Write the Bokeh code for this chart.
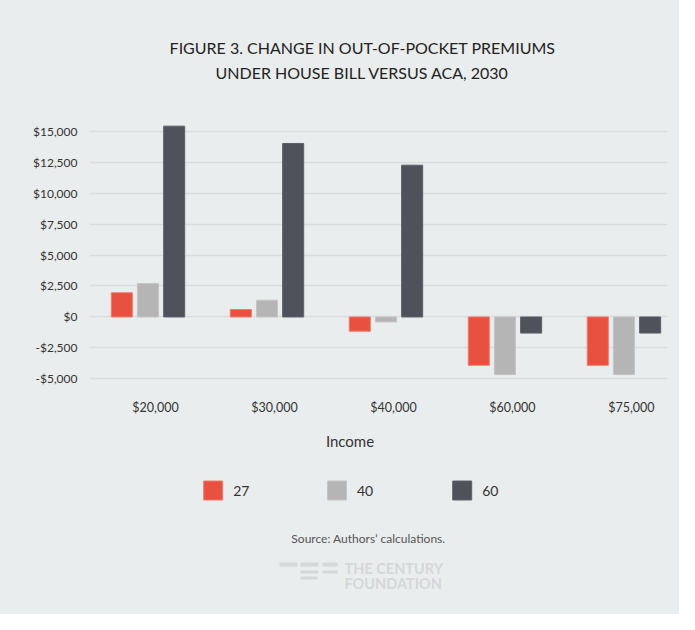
import numpy as np
from bokeh.plotting import figure
from bokeh.layouts import column
from bokeh.models import Range1d, FixedTicker, NumeralTickFormatter, CustomJSTickFormatter, ColumnDataSource
from bokeh.core.properties import value
from bokeh.embed import file_html
from bokeh.resources import INLINE

incomes = ["$20,000", "$30,000", "$40,000", "$60,000", "$75,000"]
series_names = ["27", "40", "60"]
age27 = [1950, 600, -1150, -3900, -3900]
age40 = [2700, 1350, -400, -4650, -4650]
age60 = [15400, 14000, 12250, -1300, -1300]
y_ticks = [-5000, -2500, 0, 2500, 5000, 7500, 10000, 12500, 15000]

BG = "#eaedee"
colors = ["#e8503f", "#b4b5b4", "#50525b"]
edges = ["#ef7a6c", "#c4c5c4", "#5e6069"]
FONT = "Lato"
W = 679
FL, FR = 89, 667  # frame left/right in pixels


def style(f):
    f.background_fill_color = BG
    f.background_fill_alpha = 0
    f.border_fill_color = BG
    f.outline_line_color = None


def aux(h):
    f = figure(width=W, height=h, x_range=Range1d(FL, FR), y_range=Range1d(h, 0),
               x_axis_location=None, y_axis_location=None,
               min_border_left=FL, min_border_right=W - FR, min_border_top=0, min_border_bottom=0,
               output_backend="svg", toolbar_location=None)
    style(f)
    f.grid.visible = False
    return f


def txt(f, t, x, y, size, color, align="center", style_="normal"):
    f.text(x=[x], y=[y], text=[t], text_font=value(FONT), text_font_size=size,
           text_color=color, text_align=align, text_baseline="middle", text_font_style=style_)


# ---- title ----
top = aux(104)
txt(top, "FIGURE 3. CHANGE IN OUT-OF-POCKET PREMIUMS", 362, 47, "16px", "#222222")
txt(top, "UNDER HOUSE BILL VERSUS ACA, 2030", 362, 72, "16px", "#222222")

# ---- main chart ----
idx = np.arange(len(incomes))
src = ColumnDataSource(dict(i=idx, a27=age27, a40=age40, a60=age60))
p = figure(width=W, height=316, x_range=Range1d(-0.4916, 4.366), y_range=Range1d(-6500, 16500),
           output_backend="svg", toolbar_location=None,
           min_border_left=FL, min_border_right=W - FR, min_border_top=8, min_border_bottom=23)
style(p)

from bokeh.transform import dodge
for col, off, c, e in zip(["a27", "a40", "a60"], [-0.22, 0.0, 0.22], colors, edges):
    p.vbar(x=dodge("i", off), top=col, bottom=0, width=0.177,
           source=src, fill_color=c, line_color=e, line_width=1)

p.xgrid.grid_line_color = None
p.ygrid.grid_line_color = "#d9dcdd"
p.ygrid.grid_line_width = 1.5
p.yaxis.ticker = FixedTicker(ticks=y_ticks)
p.yaxis.formatter = NumeralTickFormatter(format="$0,0")
p.xaxis.ticker = FixedTicker(ticks=list(idx + 0.063))
p.xaxis.formatter = CustomJSTickFormatter(args=dict(labels=incomes),
                                          code="return labels[Math.round(tick)];")
for ax in (p.xaxis[0], p.yaxis[0]):
    ax.axis_line_color = None
    ax.major_tick_line_color = None
    ax.minor_tick_line_color = None
    ax.major_tick_out = 0
    ax.major_tick_in = 0
    ax.major_label_text_font = FONT
    ax.major_label_text_color = "#333333"
p.yaxis.major_label_text_font_size = "12px"
p.yaxis.major_label_standoff = 12
p.xaxis.major_label_text_font_size = "12.5px"
p.xaxis.major_label_standoff = 2

# ---- bottom: axis title, legend, source, logo ----
bot = aux(194)
Y0 = 420
txt(bot, "Income", 349.5, 440 - Y0, "15px", "#333333")
legend_x = [212.7, 336.5, 461.7]
bot.scatter(x=legend_x, y=[490 - Y0] * 3, marker="square", size=19,
            fill_color=colors, line_color=edges)
bot.text(x=[x + 20 for x in legend_x], y=[490.5 - Y0] * 3, text=series_names,
         text_font=value(FONT), text_font_size="14px", text_color="#333333",
         text_align="left", text_baseline="middle")
txt(bot, "Source: Authors\u2019 calculations.", 368, 538 - Y0, "12px", "#555555")
LOGO = "#d5d7d8"
bot.quad(left=[279, 300, 322, 300, 322, 300], right=[297, 318, 337, 318, 337, 317],
         top=[t - Y0 for t in [562, 562, 562, 570, 570, 576]],
         bottom=[b - Y0 for b in [566, 566, 566, 573, 573, 579]],
         fill_color=LOGO, line_color=None)
txt(bot, "THE CENTURY", 344, 568 - Y0, "14.5px", LOGO, align="left", style_="bold")
txt(bot, "FOUNDATION", 344, 583 - Y0, "14.5px", LOGO, align="left", style_="bold")

layout = column(top, p, bot, spacing=0, styles={"background-color": BG})
open("out.html", "w").write(file_html(layout, INLINE))
